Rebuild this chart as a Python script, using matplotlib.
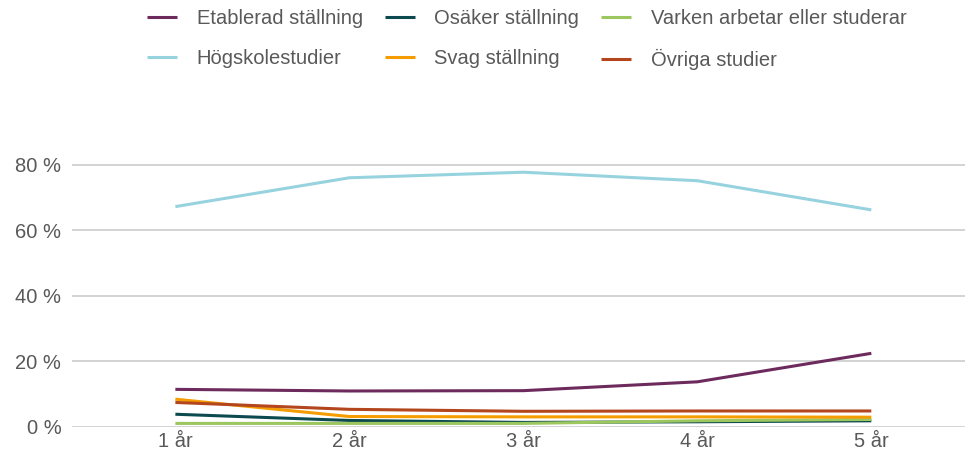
import matplotlib
matplotlib.use("Agg")
import matplotlib.pyplot as plt
from matplotlib.ticker import FuncFormatter

plt.rcParams['font.family'] = ['Liberation Sans', 'DejaVu Sans']

years = [1, 2, 3, 4, 5]
year_labels = ["1 år", "2 år", "3 år", "4 år", "5 år"]

etablerad = [11.4, 10.9, 11.0, 13.7, 22.4]
osaker = [3.8, 1.9, 1.3, 1.5, 1.8]
varken = [1.0, 1.0, 1.0, 1.8, 2.2]
hogskola = [67.2, 76.0, 77.7, 75.1, 66.2]
svag = [8.4, 3.1, 3.0, 3.0, 2.9]
ovriga = [7.4, 5.3, 4.7, 4.8, 4.8]

series = [
    ("Etablerad ställning", etablerad, "#6d2a5c"),
    ("Osäker ställning", osaker, "#0d4a50"),
    ("Varken arbetar eller studerar", varken, "#9cc65e"),
    ("Högskolestudier", hogskola, "#97d3df"),
    ("Svag ställning", svag, "#f59d00"),
    ("Övriga studier", ovriga, "#b3461c"),
]

fig = plt.figure(figsize=(9.78, 4.59), dpi=100)
ax = fig.add_axes([0.074, 0.0704, 0.913, 0.6065])

lines = {}
for name, vals, col in series:
    l, = ax.plot(years, vals, color=col, lw=2.2, solid_capstyle='butt')
    lines[name] = l

ax.set_xlim(0.408, 5.54)
ax.set_ylim(0, 85)
ax.set_yticks([0, 20, 40, 60, 80])
ax.yaxis.set_major_formatter(FuncFormatter(lambda v, p: f"{int(v)} %"))
ax.set_xticks(years)
ax.set_xticklabels(year_labels)
ax.grid(axis='y', color='#cccccc', lw=1.2)
ax.set_axisbelow(True)
for s in ax.spines.values():
    s.set_visible(False)
ax.tick_params(length=0, labelsize=14.5, colors='#595959', pad=4)
ax.tick_params(axis='y', pad=8)

order = ["Etablerad ställning", "Högskolestudier", "Osäker ställning",
         "Svag ställning", "Varken arbetar eller studerar", "Övriga studier"]
leg = fig.legend([lines[n] for n in order], order, ncol=3, loc='upper left',
                 bbox_to_anchor=(0.132, 1.02), frameon=False, fontsize=14.5,
                 handlelength=1.5, handletextpad=0.95, columnspacing=1.1,
                 labelspacing=1.05)
for t in leg.get_texts():
    t.set_color('#595959')

fig.savefig("out.png", dpi=100)
